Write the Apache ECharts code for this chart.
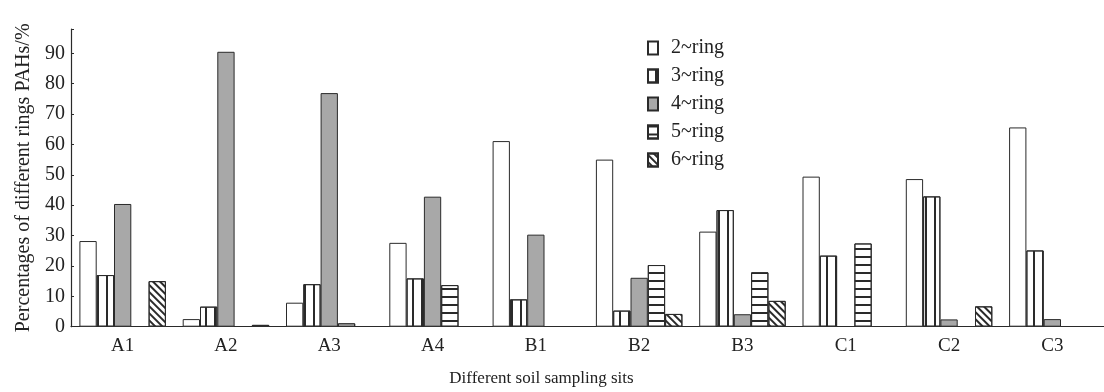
<!DOCTYPE html>
<html>
<head>
<meta charset="utf-8">
<script src="https://cdn.jsdelivr.net/npm/echarts@6/dist/echarts.min.js"></script>
<style>
html,body{margin:0;padding:0;background:#fff;}
#chart{width:1104px;height:392px;}
</style>
</head>
<body>
<div id="chart"></div>
<script>
var categories = ['A1','A2','A3','A4','B1','B2','B3','C1','C2','C3'];
var seriesNames = ['2~ring','3~ring','4~ring','5~ring','6~ring'];
var ring2 = [28.2, 2.5, 7.9, 27.6, 61.1, 55.0, 31.3, 49.4, 48.6, 65.6];
var ring3 = [17.0, 6.6, 14.0, 15.9, 9.0, 5.3, 38.4, 23.4, 42.9, 25.1];
var ring4 = [40.4, 90.5, 76.9, 42.8, 30.3, 16.1, 4.1, 0, 2.4, 2.5];
var ring5 = [0, 0, 1.1, 13.7, 0, 20.3, 17.9, 27.4, 0, 0];
var ring6 = [15.0, 0.6, 0, 0, 0, 4.2, 8.5, 0, 6.7, 0];
var yTicks = [0,10,20,30,40,50,60,70,80,90];

var FONT = 'Liberation Serif';
var ink = '#2a2a2a';

var decals = [
  null,
  {symbol:'rect', symbolSize:1, symbolKeepAspect:false, color:ink, dashArrayX:[1,0], dashArrayY:[1.2,7], rotation:Math.PI/2},
  null,
  {symbol:'rect', symbolSize:1, symbolKeepAspect:false, color:ink, dashArrayX:[1,0], dashArrayY:[1.2,5.6], rotation:0},
  {symbol:'rect', symbolSize:1, symbolKeepAspect:false, color:ink, dashArrayX:[1,0], dashArrayY:[1.5,2.6], rotation:Math.PI/4}
];
var fills = ['#ffffff','#ffffff','#a8a8a8','#ffffff','#ffffff'];
var dataSets = [ring2, ring3, ring4, ring5, ring6];

var series = seriesNames.map(function(n,i){
  var st = {color:fills[i], borderColor:ink, borderWidth:1};
  if (decals[i]) st.decal = decals[i];
  return {
    name:n, type:'bar', xAxisIndex:0, barWidth:17.3, barGap:'0%',
    data:dataSets[i].map(function(v){ return v === 0 ? null : v; }),
    itemStyle:st, emphasis:{disabled:true}, animation:false
  };
});

var chart = echarts.init(document.getElementById('chart'), null, {renderer:'canvas'});
chart.setOption({
  backgroundColor:'#ffffff',
  animation:false,
  textStyle:{fontFamily:FONT},
  grid:{left:71, right:-10, top:29, bottom:65.3, containLabel:false},
  legend:{
    orient:'vertical', left:642, top:33, itemWidth:10, itemHeight:13, itemGap:8,
    icon:'rect',
    textStyle:{fontFamily:FONT, fontSize:20, color:'#222', lineHeight:18, padding:[0,0,0,8]},
    data:seriesNames
  },
  xAxis:[{
    type:'category', data:categories,
    axisLine:{lineStyle:{color:ink, width:1.2}},
    axisTick:{inside:true, length:3, lineStyle:{color:ink}},
    axisLabel:{fontFamily:FONT, fontSize:19, color:'#222', margin:10},
    name:'Different soil sampling sits', nameLocation:'middle', nameGap:43,
    nameTextStyle:{fontFamily:FONT, fontSize:17, color:'#222', padding:[0,92,0,0]}
  },{
    type:'category', data:categories, position:'bottom',
    axisLine:{show:false}, axisLabel:{show:false},
    axisTick:{inside:true, alignWithLabel:true, length:5, lineStyle:{color:ink}}
  }],
  yAxis:{
    type:'value', min:0, max:98, interval:10,
    axisLine:{show:true, lineStyle:{color:ink, width:1.2}},
    axisTick:{show:true, inside:true, length:3, lineStyle:{color:ink}},
    splitLine:{show:false},
    axisLabel:{fontFamily:FONT, fontSize:20, color:'#222', margin:6,
      formatter:function(v){ return yTicks.indexOf(v) >= 0 ? String(v) : ''; }},
    name:'Percentages of different rings PAHs/%', nameLocation:'middle', nameRotate:90, nameGap:34,
    nameTextStyle:{fontFamily:FONT, fontSize:20, color:'#222'}
  },
  series:series
});
</script>
</body>
</html>
